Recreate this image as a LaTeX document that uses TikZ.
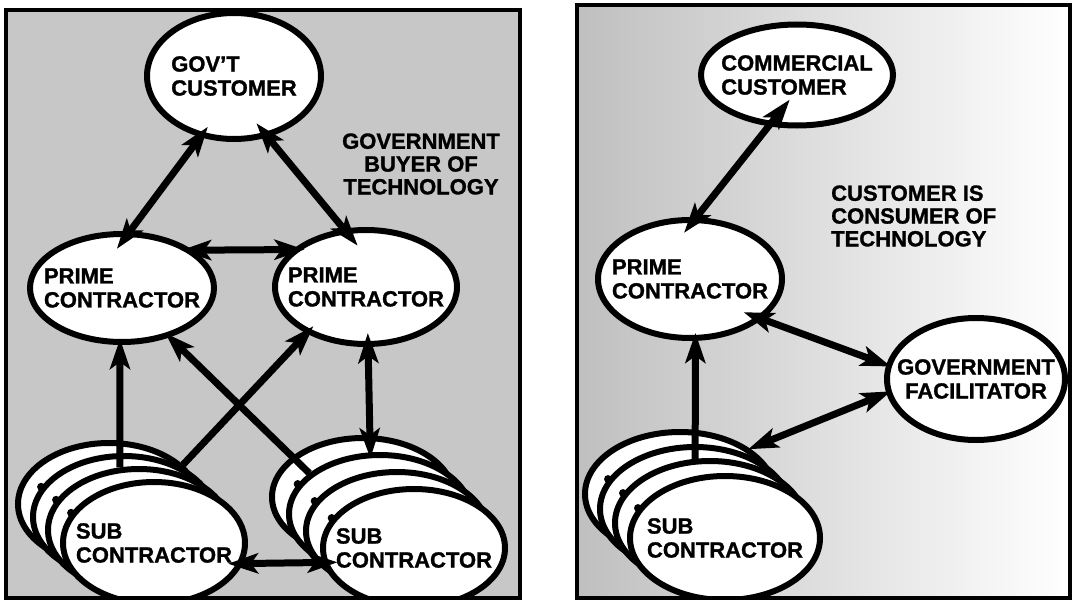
\documentclass[tikz,border=0pt]{standalone}
\usepackage{fontspec}
\setmainfont{Liberation Sans}[BoldFeatures={FakeBold=1.2}]
\usetikzlibrary{shapes.geometric,arrows.meta}
\newcommand{\dlbl}{\fontsize{22}{24}\selectfont\bfseries}
\newcommand{\dhead}{\fontsize{22}{22.8}\selectfont\bfseries}
\begin{document}
\begin{tikzpicture}[x=1pt,y=-1pt,
  ell/.style={draw, line width=6pt, fill=white, ellipse, inner xsep=-80pt, inner ysep=-40pt, align=left, font=\dlbl},
  conn/.style={line width=7pt, >={Stealth[length=30pt,width=20pt,inset=7pt]}},
  panel/.style={draw, line width=4pt},
  headtext/.style={font=\dhead, inner sep=0pt}]
\useasboundingbox (0,0) rectangle (1073,602);
\fill[white] (0,0) rectangle (1073,602);

% ---------------- left panel ----------------
\fill[black!22] (6,10) rectangle (520,598);
\begin{scope}
\clip (6,10) rectangle (520,598);
\node[ell, minimum width=174pt, minimum height=126pt] (gov) at (234,76) {GOV'T\\CUSTOMER};
\node[ell, minimum width=184pt, minimum height=108pt] (primeL) at (122,288) {PRIME\\CONTRACTOR};
\node[ell, minimum width=182pt, minimum height=114pt] (primeR) at (366,287) {PRIME\\CONTRACTOR};
\node[ell, minimum width=182pt, minimum height=122pt] (subL4) at (109,504) {};
\node[ell, minimum width=182pt, minimum height=122pt] (subL3) at (124,517) {};
\node[ell, minimum width=182pt, minimum height=122pt] (subL2) at (139,530) {};
\node[ell, minimum width=182pt, minimum height=122pt] (subL1) at (154,543) {SUB\\CONTRACTOR};
\node[ell, minimum width=182pt, minimum height=118pt] (subR4) at (363,497) {};
\node[ell, minimum width=182pt, minimum height=118pt] (subR3) at (380,514) {};
\node[ell, minimum width=182pt, minimum height=118pt] (subR2) at (397,531) {};
\node[ell, minimum width=182pt, minimum height=118pt] (subR1) at (414,548) {SUB\\CONTRACTOR};
\foreach \n in {subL3,subL2,subL1,subR3,subR2,subR1}
  \fill (\n.160) circle (4pt);
\draw[conn,<->,shorten <=-13pt,shorten >=-22pt] (gov.241) -- (primeL.82);
\draw[conn,<->,shorten <=-18pt,shorten >=-22pt] (gov.299) -- (primeR.111);
\draw[conn,<->,shorten <=-12pt,shorten >=-12pt] (primeL.28) -- (primeR.153);
\draw[conn,->,shorten >=-6pt] (subL2.107) -- (primeL.268);
\draw[conn,<->,shorten <=-14pt,shorten >=-6pt] (primeR.272) -- (subR3.99);
\draw[conn,->,shorten >=-10pt] (subL4.28) -- (primeR.218);
\draw[conn,->,shorten >=-6pt] (subR3.150) -- (primeL.314);
\draw[conn,<->,shorten <=-15pt,shorten >=-15pt] (subL1.-13) -- (subR1.189);
\node[headtext, align=center] (lhead) at (421,164) {GOVERNMENT\\BUYER OF\\TECHNOLOGY};
\end{scope}
\draw[panel] (6,10) rectangle (520,598);

% ---------------- right panel ----------------
\shade[left color=black!25, right color=white] (577,5) rectangle (1070,598);
\begin{scope}
\clip (577,5) rectangle (1070,598);
\node[ell, minimum width=192pt, minimum height=101pt] (comm) at (797,75) {COMMERCIAL\\CUSTOMER};
\node[ell, minimum width=184pt, minimum height=118pt] (primeRP) at (690,279) {PRIME\\CONTRACTOR};
\node[ell, minimum width=178pt, minimum height=122pt, align=center] (govfac) at (976,379) {GOVERNMENT\\FACILITATOR};
\node[ell, minimum width=190pt, minimum height=124pt] (subP4) at (680,494) {};
\node[ell, minimum width=190pt, minimum height=124pt] (subP3) at (695,509) {};
\node[ell, minimum width=190pt, minimum height=124pt] (subP2) at (710,523) {};
\node[ell, minimum width=190pt, minimum height=124pt] (subP1) at (725,538) {SUB\\CONTRACTOR};
\foreach \n in {subP3,subP2,subP1}
  \fill (\n.161) circle (4pt);
\draw[conn,<->,shorten <=-34pt,shorten >=-20pt] (comm.241) -- (primeRP.84);
\draw[conn,<->,shorten <=-20pt,shorten >=-5pt] (primeRP.331) -- (govfac.171);
\draw[conn,<->,shorten <=-5pt,shorten >=-2pt] (govfac.189) -- (subP4.33);
\draw[conn,->,shorten >=-8pt] (subP2.103) -- (primeRP.275);
\node[headtext, align=left, anchor=west] (rhead) at (831,216) {CUSTOMER IS\\CONSUMER OF\\TECHNOLOGY};
\end{scope}
\draw[panel] (577,5) rectangle (1070,598);
\end{tikzpicture}
\end{document}
